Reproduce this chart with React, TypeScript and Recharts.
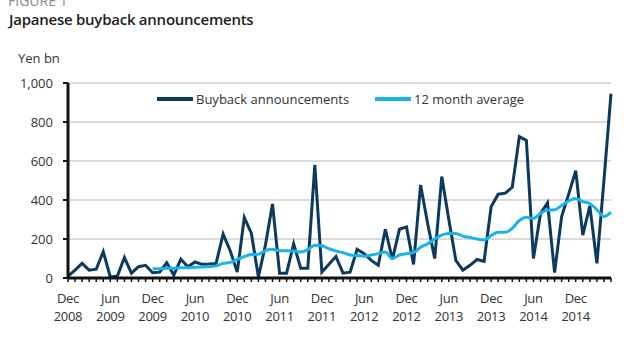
import { LineChart, Line, XAxis, YAxis, CartesianGrid } from 'recharts';

// monthly, Dec 2008 .. May 2015
const buyback = [
  10, 40, 75, 40, 45, 135, 5, 10, 105, 25, 58, 65,
  27, 30, 78, 15, 96, 58, 82, 70, 72, 75, 225, 140,
  30, 310, 230, 5, 170, 380, 25, 25, 175, 50, 50, 580,
  30, 70, 110, 25, 30, 147, 125, 90, 65, 250, 95, 250,
  262, 70, 477, 280, 100, 520, 300, 90, 40, 65, 95, 85,
  365, 430, 435, 465, 725, 705, 100, 330, 385, 28, 315, 430,
  550, 220, 370, 75, 500, 945,
];

const average = [
  null, null, null, null, null, null, null, null, null, null, null, null,
  48, 48, 50, 50, 52, 52, 55, 57, 58, 62, 75, 80,
  95, 110, 120, 122, 140, 147, 140, 140, 138, 133, 145, 168,
  165, 150, 138, 130, 118, 115, 112, 118, 125, 133, 100, 118,
  125, 130, 158, 175, 200, 220, 228, 228, 215, 208, 200, 195,
  218, 235, 235, 255, 295, 312, 305, 332, 348, 350, 372, 395,
  408, 392, 382, 350, 315, 338,
];

const monthNames = ['Jan', 'Feb', 'Mar', 'Apr', 'May', 'Jun', 'Jul', 'Aug', 'Sep', 'Oct', 'Nov', 'Dec'];
const labelMonths = ['Dec', 'Jun'];
const yTicks = [0, 200, 400, 600, 800, 1000];

const data = buyback.map((v, i) => {
  const mi = (11 + i) % 12;
  const year = 2008 + Math.floor((11 + i) / 12);
  return { month: `${monthNames[mi]} ${year}`, buyback: v, average: average[i] };
});

const DARK = '#0c3a5e';
const LIGHT = '#18b4ea';
const FONT = '"Open Sans", sans-serif';

const MonthTick = (props: any) => {
  const { x, y, payload } = props;
  const [m, yr] = String(payload.value).split(' ');
  if (!labelMonths.includes(m)) return null;
  return (
    <text x={x} y={y} textAnchor="middle" fill="#333" fontSize={13} fontFamily={FONT} letterSpacing={-0.3}>
      <tspan x={x} dy={19}>{m}</tspan>
      <tspan x={x} dy={18}>{yr}</tspan>
    </text>
  );
};

export default function App() {
  return (
    <div style={{ position: 'absolute', left: 0, top: 0, width: 640, height: 360, background: '#fff', overflow: 'hidden', fontFamily: FONT }}>
      <div style={{ position: 'absolute', left: 8, top: -9, fontSize: 14, color: '#8a8a8a' }}>FIGURE 1</div>
      <div style={{ position: 'absolute', left: 9, top: 9, fontSize: 15, color: '#1e1e1e', fontWeight: 600, letterSpacing: -0.25 }}>
        Japanese buyback announcements
      </div>
      <div style={{ position: 'absolute', left: 18, top: 49, fontSize: 13, color: '#333' }}>Yen bn</div>
      <LineChart width={640} height={360} data={data} margin={{ top: 83, right: 29, bottom: 0, left: 0 }}>
        <CartesianGrid vertical={false} stroke="#cfcfcf" strokeWidth={1.5} />
        <XAxis
          dataKey="month"
          interval={0}
          height={82}
          tick={<MonthTick />}
          tickLine={{ stroke: '#111', strokeWidth: 1.5 }}
          tickSize={4}
          axisLine={{ stroke: '#111', strokeWidth: 3 }}
        />
        <YAxis
          width={68}
          domain={[0, 1000]}
          ticks={yTicks}
          tickFormatter={(v: number) => v.toLocaleString('en-US')}
          tick={{ fill: '#333', fontSize: 13, fontFamily: FONT }}
          tickLine={{ stroke: '#111', strokeWidth: 2 }}
          tickSize={5}
          tickMargin={10}
          axisLine={{ stroke: '#111', strokeWidth: 3 }}
        />
        <Line
          type="linear"
          dataKey="buyback"
          stroke={DARK}
          strokeWidth={3}
          dot={false}
          isAnimationActive={false}
        />
        <Line
          type="monotone"
          dataKey="average"
          stroke={LIGHT}
          strokeWidth={3}
          dot={false}
          connectNulls={false}
          isAnimationActive={false}
        />
      </LineChart>
      <div style={{ position: 'absolute', left: 157, top: 90, display: 'flex', alignItems: 'center', fontSize: 13, color: '#333', background: '#fff', paddingRight: 4 }}>
        <span style={{ display: 'inline-block', width: 36, height: 4, background: DARK, marginRight: 3 }} />
        <span style={{ marginRight: 26 }}>Buyback announcements</span>
        <span style={{ display: 'inline-block', width: 36, height: 4, background: LIGHT, marginRight: 3 }} />
        <span>12 month average</span>
      </div>
    </div>
  );
}
